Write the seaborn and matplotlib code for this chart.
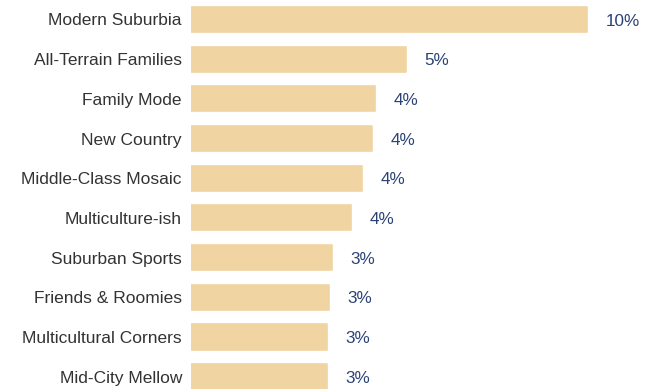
import numpy as np
import pandas as pd
import seaborn as sb
from matplotlib import pyplot as plt

# segment shares (percent)
segments = ['Modern Suburbia', 'All-Terrain Families', 'Family Mode', 'New Country',
            'Middle-Class Mosaic', 'Multiculture-ish', 'Suburban Sports',
            'Friends & Roomies', 'Multicultural Corners', 'Mid-City Mellow']
shares = [9.6, 5.2, 4.45, 4.38, 4.14, 3.87, 3.41, 3.34, 3.29, 3.29]

bar_color = '#F0D4A1'
label_color = '#2B4276'

df = pd.DataFrame({'segment': segments, 'share': shares})

sb.set_style('white')
plt.rcParams['font.family'] = ['Liberation Sans', 'DejaVu Sans']

fig = plt.figure(figsize=(6.62, 3.89), dpi=100)
ax = fig.add_axes([191 / 662, 0, 471 / 662, 1])

sb.barplot(ax=ax, data=df, x='share', y='segment', orient='h', color=bar_color,
           width=0.63, saturation=1, edgecolor=bar_color, linewidth=1.2)
for p in ax.patches:
    p.set_joinstyle('round')

# value labels, nudged slightly down to sit at the bar centre like the original
for t in ax.bar_label(ax.containers[0], labels=[f'{v:.0f}%' for v in shares],
                      padding=13.5, color=label_color, fontsize=12.3):
    ox, oy = t.xyann
    t.xyann = (ox, oy - 1.2)

ax.set_xlim(0, 9.6 * 471 / 396)
ax.set_ylim(9.31, -0.49)
ax.set_xlabel('')
ax.set_ylabel('')
ax.set_xticks([])
ax.tick_params(axis='y', length=0, pad=6.5, labelsize=12.5, labelcolor='#333333')
sb.despine(ax=ax, left=True, bottom=True)

fig.savefig('out.png', dpi=100)
